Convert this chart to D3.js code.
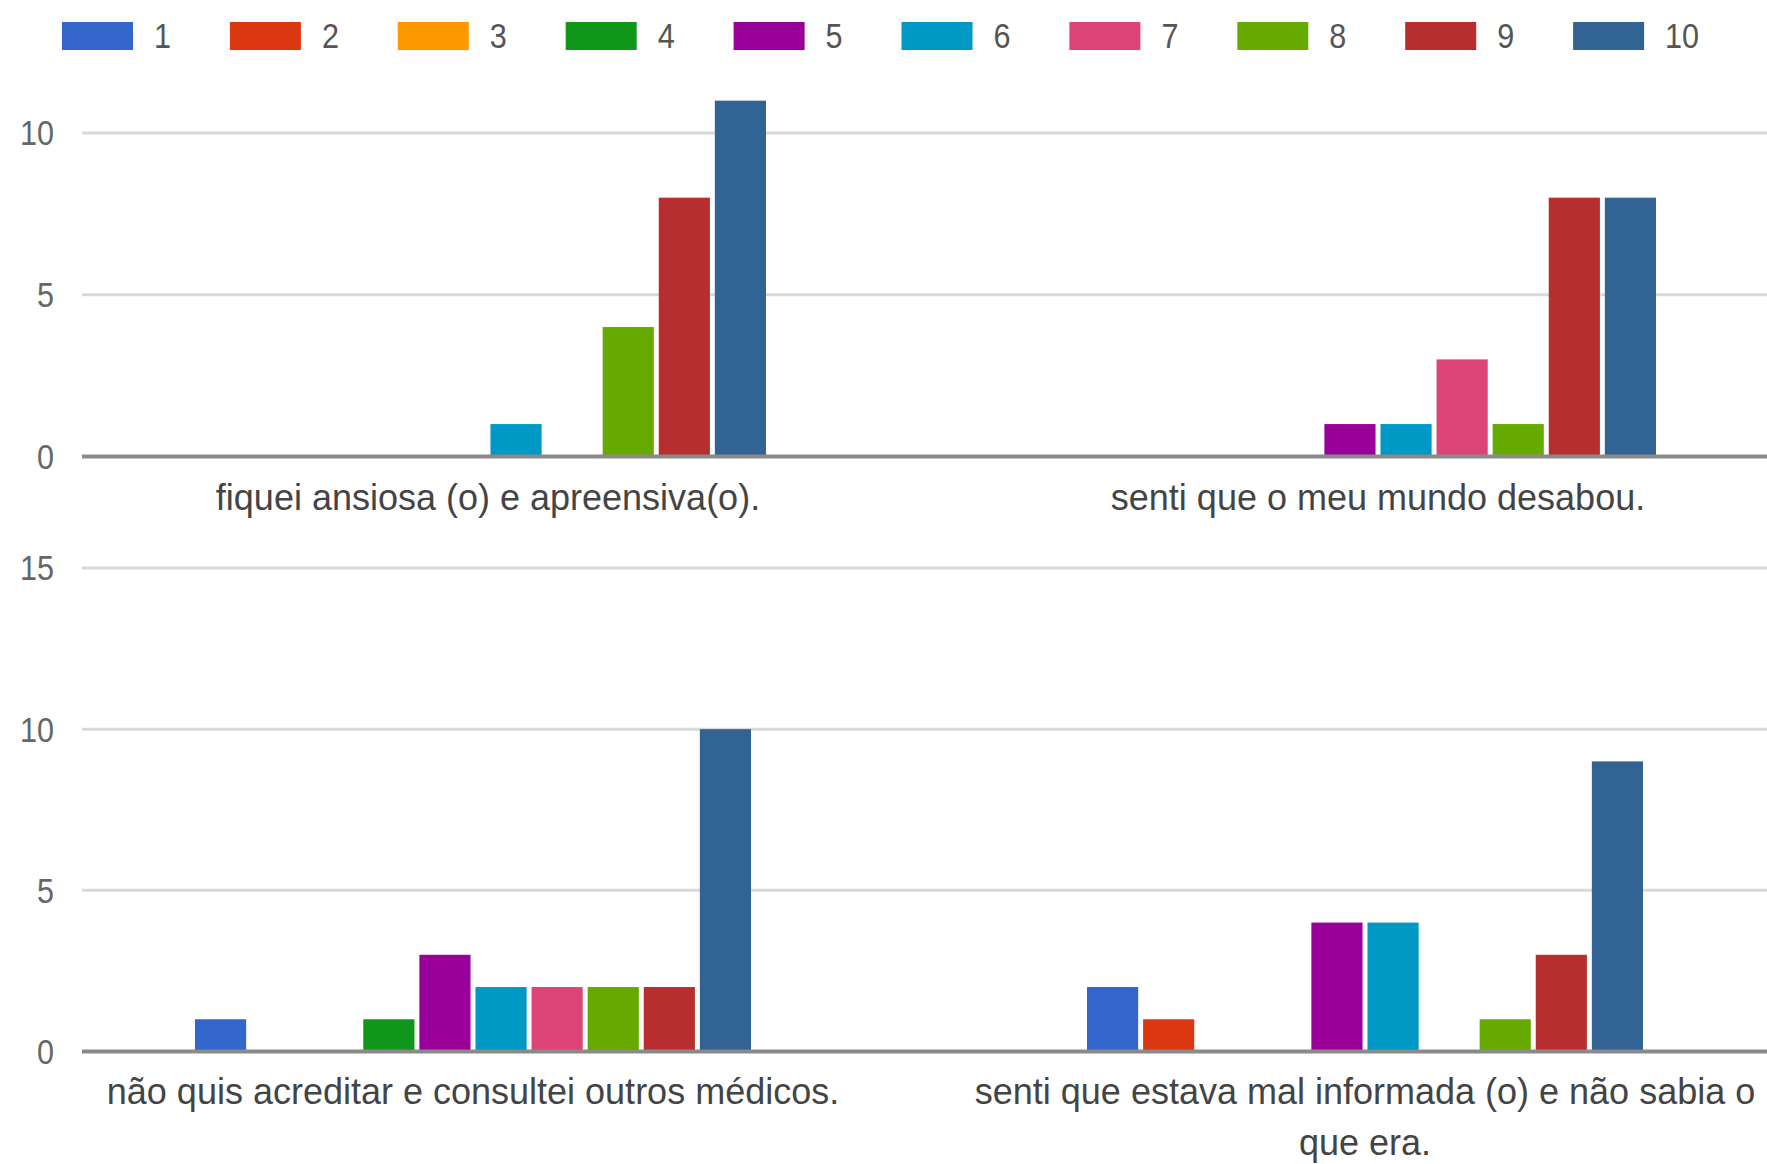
<!DOCTYPE html>
<html>
<head>
<meta charset="utf-8">
<script src="https://cdn.jsdelivr.net/npm/d3@7"></script>
<style>
  html, body { margin: 0; padding: 0; background: #fff; }
  svg { display: block; }
  text { font-family: "Liberation Sans", Arial, sans-serif; }
</style>
</head>
<body>
<svg id="chart" width="1767" height="1164"></svg>
<script>
// ---- data ----
const series = ["1", "2", "3", "4", "5", "6", "7", "8", "9", "10"];
const colors = ["#3366cc", "#dc3912", "#ff9900", "#109618", "#990099", "#0099c6", "#dd4477", "#66aa00", "#b82e2e", "#316395"];
const topCategories = ["fiquei ansiosa (o) e apreensiva(o).", "senti que o meu mundo desabou."];
const topValues = [
  [0, 0, 0, 0, 0, 1, 0, 4, 8, 11],
  [0, 0, 0, 0, 1, 1, 3, 1, 8, 8]
];
const bottomCategories = ["não quis acreditar e consultei outros médicos.", "senti que estava mal informada (o) e não sabia o que era."];
const bottomValues = [
  [1, 0, 0, 1, 3, 2, 2, 2, 2, 10],
  [2, 1, 0, 0, 4, 4, 0, 1, 3, 9]
];
const yTicks = [0, 5, 10, 15];

// ---- drawing ----
const svg = d3.select("#chart");
const W = 1767;
const FONT = 36;
const DIGIT_SQUEEZE = 0.85;

// legend
const legend = svg.append("g");
series.forEach((s, i) => {
  const x = 62 + i * 167.9;
  legend.append("rect").attr("x", x).attr("y", 22).attr("width", 71).attr("height", 28).attr("fill", colors[i]);
  legend.append("text")
    .attr("transform", `translate(${x + 92},36) scale(${DIGIT_SQUEEZE},1)`)
    .attr("dominant-baseline", "central")
    .attr("font-size", FONT)
    .attr("fill", "#555")
    .text(s);
});

function wrapText(textSel, maxW, lineH) {
  textSel.each(function () {
    const t = d3.select(this);
    const words = t.text().split(/\s+/);
    const x = t.attr("x");
    t.text(null);
    let line = [];
    let tspan = t.append("tspan").attr("x", x).attr("dy", 0);
    words.forEach(w => {
      line.push(w);
      tspan.text(line.join(" "));
      if (tspan.node().getComputedTextLength() > maxW && line.length > 1) {
        line.pop();
        tspan.text(line.join(" "));
        line = [w];
        tspan = t.append("tspan").attr("x", x).attr("dy", lineH).text(w);
      }
    });
  });
}

function drawPanel(categories, values, bandRange, y0, y15, labelBaseline) {
  const g = svg.append("g");
  const x = d3.scaleBand().domain(categories).range(bandRange).padding(0);
  const y = d3.scaleLinear().domain([0, 15]).range([y0, y15]);
  const groupW = 556;
  const inner = d3.scaleBand().domain(series).range([-groupW / 2, groupW / 2]).paddingInner(0.088).paddingOuter(0);

  const visibleTicks = yTicks.filter(t => y(t) > 60);

  // gridlines
  visibleTicks.filter(t => t !== 0).forEach(t => {
    g.append("line").attr("x1", 82).attr("x2", W)
      .attr("y1", y(t)).attr("y2", y(t))
      .attr("stroke", "#d9d9d9").attr("stroke-width", 3);
  });
  // tick labels
  visibleTicks.forEach(t => {
    g.append("text")
      .attr("transform", `translate(54,${y(t)}) scale(${DIGIT_SQUEEZE},1)`)
      .attr("text-anchor", "end")
      .attr("dominant-baseline", "central")
      .attr("font-size", FONT)
      .attr("fill", "#666")
      .text(t);
  });

  // bars
  categories.forEach((c, ci) => {
    const cx = x(c) + x.bandwidth() / 2;
    values[ci].forEach((v, si) => {
      if (v <= 0) return;
      g.append("rect")
        .attr("x", cx + inner(series[si]))
        .attr("width", inner.bandwidth())
        .attr("y", y(v))
        .attr("height", y(0) - y(v))
        .attr("fill", colors[si]);
    });
    const lbl = g.append("text")
      .attr("x", cx)
      .attr("y", labelBaseline)
      .attr("text-anchor", "middle")
      .attr("font-size", FONT)
      .attr("fill", "#444")
      .text(c);
    wrapText(lbl, 830, 51);
  });

  // baseline
  g.append("line").attr("x1", 82).attr("x2", W)
    .attr("y1", y(0)).attr("y2", y(0))
    .attr("stroke", "#8a8a8a").attr("stroke-width", 4);
}

drawPanel(topCategories, topValues, [43, 1823], 456.4, 456.4 - 485.1, 510);
drawPanel(bottomCategories, bottomValues, [27, 1811], 1051.5, 568, 1104);
</script>
</body>
</html>
